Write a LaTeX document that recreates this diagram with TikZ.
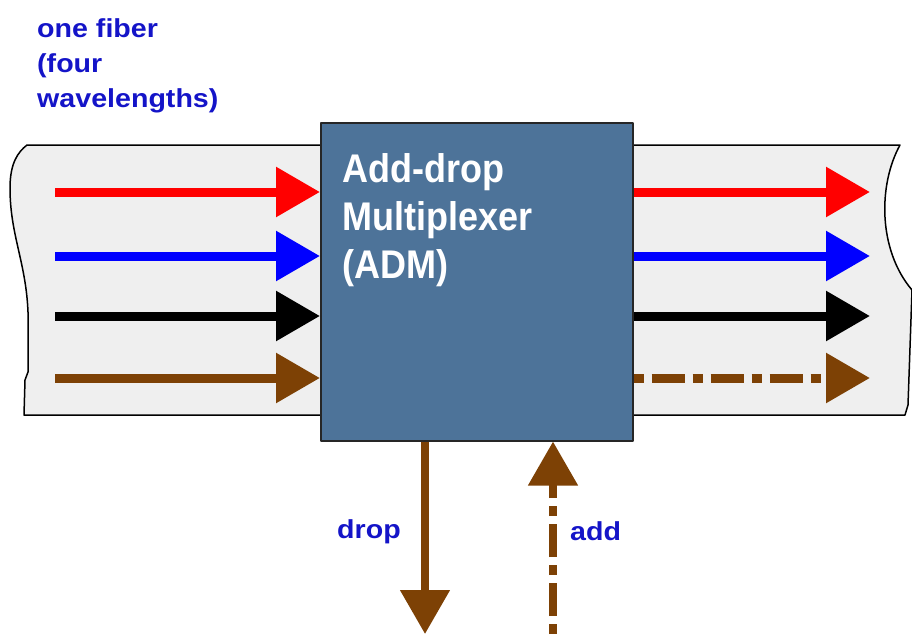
\documentclass[tikz,border=0pt]{standalone}
\usepackage{fontspec}
\setmainfont{Liberation Sans}
\usetikzlibrary{arrows.meta,positioning}
\definecolor{admblue}{RGB}{77,115,153}
\definecolor{lblblue}{RGB}{20,20,200}
\definecolor{wavebrown}{RGB}{125,65,5}
\definecolor{fibergray}{RGB}{239,239,239}
\begin{document}
\begin{tikzpicture}[x=1pt, y=-1pt, line join=round, >={Triangle[length=44pt,width=48pt]},
	chan/.style={line width=9pt, ->},
	dashdot/.style={dash pattern=on 10pt off 8pt on 33pt off 8pt},
	lbl/.style={text=lblblue, font=\fontsize{26}{35}\selectfont\bfseries, align=left, inner sep=0pt, xscale=1.1}]
	\def\xin{55}\def\xout{870}
	\useasboundingbox (0,0) rectangle (912,634);
	% the fiber
	\draw[fill=fibergray, line width=1.5pt] (27,145) -- (900,145)
		.. controls (878,185) and (878,250) .. (912,290) -- (908,405) -- (905,415)
		-- (24,415) -- (25,380) -- (28,372) -- (28,312)
		.. controls (26,262) and (10,235) .. (10,188)
		.. controls (10,163) and (18,152) .. (27,145) -- cycle;
	\node[lbl, anchor=north west] (fiberlbl) at (37,18) {one fiber\\(four\\wavelengths)};
	% the multiplexer
	\node[draw=black!85, line width=1.5pt, fill=admblue, minimum width=312pt, minimum height=318pt,
		anchor=north west, inner sep=0pt] (adm) at (320,122) {};
	\node[anchor=north west, inner sep=0pt, text=white, align=left, xscale=0.9,
		font=\fontsize{40}{48}\selectfont\bfseries] (admlbl) at (342,153) {Add-drop\\Multiplexer\\(ADM)};
	% wavelengths
	\foreach \c/\y [count=\i] in {red/192, blue/256, black/316, wavebrown/378} {
		\coordinate (in\i) at (\xin,\y);
		\coordinate (out\i) at (\xout,\y);
		\draw[chan, \c] (in\i) -- (in\i -| adm.west);
	}
	\foreach \c [count=\i] in {red, blue, black}
		\draw[chan, \c] (out\i -| adm.east) -- (out\i);
	\draw[chan, wavebrown, dashdot] (out4 -| adm.east) -- (out4);
	% drop and add
	\coordinate (dropend) at (425,634);
	\coordinate (addstart) at (553,634);
	\draw[chan, wavebrown, line width=8pt] (dropend |- adm.south) -- (dropend);
	\draw[chan, wavebrown, line width=8pt, dashdot] (addstart) -- (addstart |- adm.south);
	\node[lbl, anchor=base west] (droplbl) at (337,538) {drop};
	\node[lbl, anchor=base west] (addlbl) at (570,540) {add};
\end{tikzpicture}
\end{document}
